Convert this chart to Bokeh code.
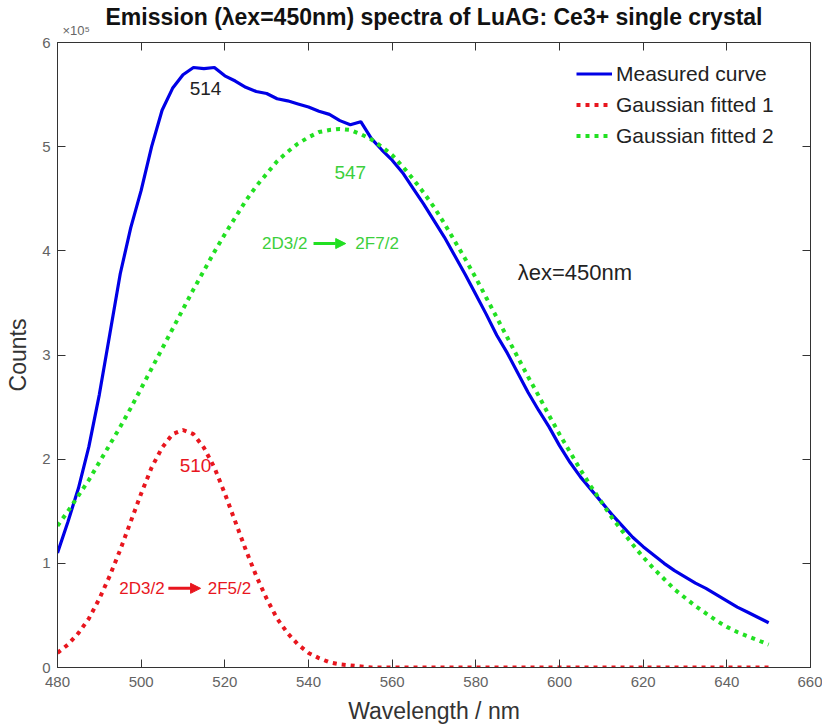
import numpy as np
from bokeh.plotting import figure
from bokeh.models import (Range1d, FixedTicker, LinearAxis, Legend, LegendItem,
                          Label, Arrow, NormalHead, Title, CustomLabelingPolicy)
from bokeh.embed import file_html
from bokeh.resources import INLINE

# ---------------- data (counts in units of 1e5) ----------------
wavelength_nm = np.arange(480.0, 650.01, 2.5)

measured_1e5 = [
    1.10, 1.40, 1.72, 2.12, 2.62, 3.20, 3.78, 4.22, 4.58, 5.00,
    5.35, 5.56, 5.69, 5.76, 5.75, 5.76, 5.68, 5.63, 5.57, 5.53,
    5.51, 5.46, 5.44, 5.41, 5.38, 5.34, 5.31, 5.25, 5.21, 5.24,
    5.08, 4.97, 4.87, 4.75, 4.60, 4.45, 4.29, 4.13, 3.95, 3.77,
    3.58, 3.39, 3.19, 3.02, 2.83, 2.64, 2.47, 2.31, 2.13, 1.97,
    1.83, 1.71, 1.59, 1.47, 1.36, 1.25, 1.16, 1.08, 1.00, 0.93,
    0.87, 0.81, 0.76, 0.70, 0.64, 0.58, 0.53, 0.48, 0.43,
]

gauss1_1e5 = [
    0.14, 0.22, 0.33, 0.47, 0.66, 0.88, 1.13, 1.40, 1.67, 1.92,
    2.11, 2.24, 2.28, 2.24, 2.11, 1.92, 1.67, 1.40, 1.13, 0.88,
    0.66, 0.47, 0.33, 0.22, 0.14, 0.09, 0.05, 0.03, 0.02, 0.01,
    0.00, 0.00, 0.00, 0.00, 0.00, 0.00, 0.00, 0.00, 0.00, 0.00,
    0.00, 0.00, 0.00, 0.00, 0.00, 0.00, 0.00, 0.00, 0.00, 0.00,
    0.00, 0.00, 0.00, 0.00, 0.00, 0.00, 0.00, 0.00, 0.00, 0.00,
    0.00, 0.00, 0.00, 0.00, 0.00, 0.00, 0.00, 0.00, 0.00,
]

gauss2_1e5 = [
    1.36, 1.50, 1.65, 1.80, 1.97, 2.14, 2.31, 2.49, 2.68, 2.87,
    3.06, 3.25, 3.44, 3.63, 3.81, 3.99, 4.16, 4.32, 4.48, 4.62,
    4.74, 4.86, 4.95, 5.03, 5.09, 5.14, 5.16, 5.17, 5.16, 5.12,
    5.07, 5.00, 4.92, 4.81, 4.69, 4.56, 4.42, 4.26, 4.09, 3.92,
    3.74, 3.55, 3.36, 3.17, 2.98, 2.79, 2.61, 2.42, 2.24, 2.07,
    1.90, 1.74, 1.59, 1.44, 1.31, 1.18, 1.06, 0.95, 0.85, 0.75,
    0.67, 0.59, 0.52, 0.45, 0.39, 0.34, 0.30, 0.26, 0.22,
]

x_ticks = [480, 500, 520, 540, 560, 580, 600, 620, 640, 660]
y_ticks = [0, 1, 2, 3, 4, 5, 6]

BLUE = "#0000e6"
RED = "#e8161e"
GREEN = "#22e022"
GREEN_TXT = "#3ccf3c"
FONT = "Liberation Sans"

p = figure(width=822, height=728, x_range=Range1d(480, 660), y_range=Range1d(0, 6),
           output_backend="svg", toolbar_location=None, title=None,
           min_border_left=57, min_border_right=12, min_border_top=42, min_border_bottom=61)
p.xgrid.visible = False
p.ygrid.visible = False
p.outline_line_color = "#333333"
p.outline_line_width = 1
p.background_fill_color = "white"
p.border_fill_color = "white"

for ax, ticks in ((p.xaxis[0], x_ticks), (p.yaxis[0], y_ticks)):
    ax.ticker = FixedTicker(ticks=ticks)
    ax.major_tick_in = 8
    ax.major_tick_out = 0
    ax.minor_tick_line_color = None
    ax.axis_line_color = "#333333"
    ax.major_tick_line_color = "#333333"
    ax.major_label_text_font = FONT
    ax.major_label_text_font_size = "15px"
    ax.major_label_text_color = "#636363"
    ax.axis_label_text_font = FONT
    ax.axis_label_text_font_size = "23px"
    ax.axis_label_text_font_style = "normal"
    ax.axis_label_text_color = "#333333"

p.xaxis.axis_label = "Wavelength / nm"
p.yaxis.axis_label = "Counts"
p.xaxis.major_label_standoff = 9
p.xaxis.axis_label_standoff = 8
p.yaxis.major_label_standoff = 7
p.yaxis.axis_label_standoff = 8

no_labels = CustomLabelingPolicy(code="return new Set()")
for loc, ticks in (("above", x_ticks), ("right", y_ticks)):
    ax = LinearAxis(ticker=FixedTicker(ticks=ticks), major_tick_in=8, major_tick_out=0,
                    minor_tick_line_color=None, axis_line_color=None,
                    major_tick_line_color="#333333", major_label_policy=no_labels,
                    major_label_standoff=0)
    p.add_layout(ax, loc)

# exponent marker, then the main title above it
p.add_layout(Title(text="\u00d710\u2075", align="left", offset=5, standoff=-12,
                   text_font=FONT, text_font_size="13px", text_font_style="normal",
                   text_color="#666666"), "above")
p.add_layout(Title(text="Emission (\u03bbex=450nm) spectra of LuAG: Ce3+ single crystal",
                   align="center", standoff=-6, text_font=FONT, text_font_size="23px",
                   text_font_style="bold", text_color="#111111"), "above")

r_meas = p.line(wavelength_nm, measured_1e5, line_color=BLUE, line_width=3.2)
r_g1 = p.line(wavelength_nm, gauss1_1e5, line_color=RED, line_width=4,
              line_dash="4 5")
r_g2 = p.line(wavelength_nm, gauss2_1e5, line_color=GREEN, line_width=4,
              line_dash="4 5")

legend = Legend(items=[LegendItem(label="Measured curve", renderers=[r_meas]),
                       LegendItem(label="Gaussian fitted 1", renderers=[r_g1]),
                       LegendItem(label="Gaussian fitted 2", renderers=[r_g2])],
                location=(519, 518), padding=0, margin=0, spacing=4,
                glyph_width=36, glyph_height=27, label_height=27, label_standoff=4,
                label_text_font=FONT, label_text_font_size="21px",
                label_text_color="#222222", border_line_color=None,
                background_fill_alpha=0)
p.add_layout(legend)

def add_text(x, y, text, color, size="19px", align="center"):
    p.add_layout(Label(x=x, y=y, text=text, text_color=color, text_font=FONT,
                       text_font_size=size, text_align=align, text_baseline="middle"))

add_text(515.4, 5.56, "514", "#222222")
add_text(513.0, 1.94, "510", RED)
add_text(550.0, 4.75, "547", GREEN_TXT)
add_text(590.0, 3.79, "\u03bbex=450nm", "#222222", size="22px", align="left")

add_text(500.2, 0.76, "2D3/2", RED, size="17px")
add_text(521.1, 0.76, "2F5/2", RED, size="17px")
add_text(534.3, 4.07, "2D3/2", GREEN_TXT, size="17px")
add_text(556.4, 4.07, "2F7/2", GREEN_TXT, size="17px")

p.add_layout(Arrow(x_start=506.5, y_start=0.76, x_end=514.2, y_end=0.76,
                   line_color=RED, line_width=3,
                   end=NormalHead(size=10, fill_color=RED, line_color=RED)))
p.add_layout(Arrow(x_start=541.2, y_start=4.07, x_end=548.9, y_end=4.07,
                   line_color=GREEN, line_width=3,
                   end=NormalHead(size=10, fill_color=GREEN, line_color=GREEN)))

open("out.html", "w").write(file_html(p, INLINE))
